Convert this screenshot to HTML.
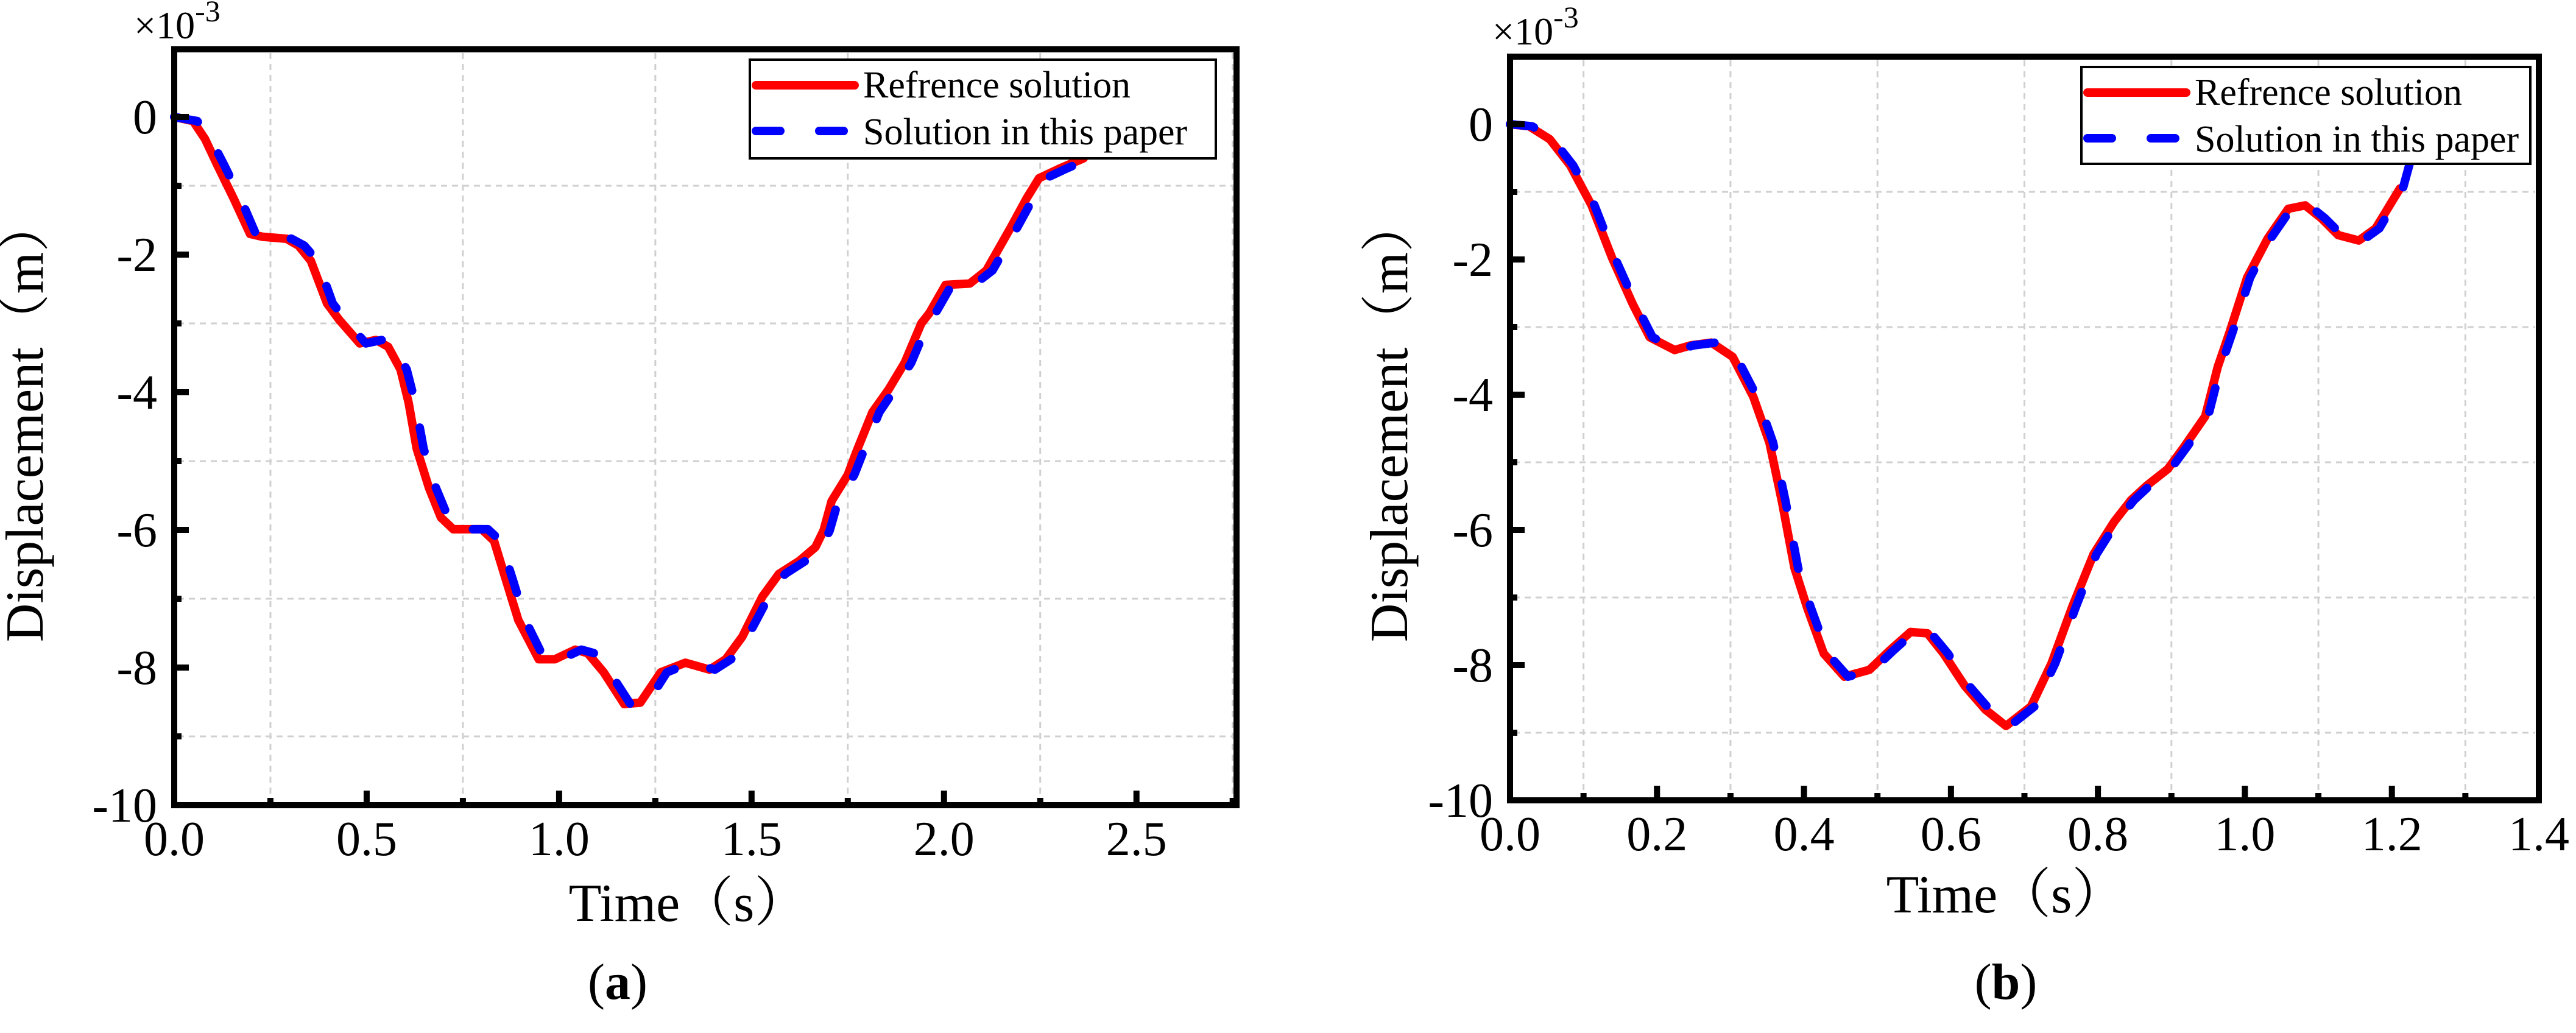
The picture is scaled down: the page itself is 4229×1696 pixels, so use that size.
<!DOCTYPE html>
<html><head><meta charset="utf-8"><style>
html,body{margin:0;padding:0;background:#fff;}
svg{display:block;font-family:"Liberation Serif","Noto Serif CJK SC",serif;}
svg text{font-family:"Liberation Serif","Noto Serif CJK SC",serif;}
</style></head><body>
<svg id="fig" width="4229" height="1696" viewBox="0 0 4229 1696" xmlns="http://www.w3.org/2000/svg">
<rect width="4229" height="1696" fill="#fff"/>
</svg>
<script>
// ---- Panel (a) data ----
const aRefT = [0,0.049,0.080,0.112,0.154,0.197,0.228,0.292,0.323,0.355,0.397,0.429,0.482,0.524,0.556,0.588,0.609,0.630,0.662,0.693,0.725,0.799,0.831,0.862,0.894,0.947,0.989,1.042,1.074,1.116,1.169,1.211,1.264,1.328,1.391,1.433,1.476,1.528,1.571,1.624,1.666,1.687,1.708,1.750,1.772,1.814,1.856,1.898,1.941,1.962,2.004,2.067,2.110,2.173,2.215,2.247,2.300,2.363];
const aRefY = [0,-0.06,-0.32,-0.70,-1.18,-1.70,-1.74,-1.77,-1.87,-2.09,-2.71,-2.95,-3.29,-3.24,-3.34,-3.67,-4.15,-4.82,-5.39,-5.82,-5.99,-5.99,-6.16,-6.73,-7.31,-7.88,-7.88,-7.74,-7.79,-8.07,-8.53,-8.51,-8.07,-7.93,-8.03,-7.88,-7.55,-6.97,-6.64,-6.45,-6.25,-6.01,-5.58,-5.20,-4.87,-4.29,-3.96,-3.57,-3.00,-2.85,-2.44,-2.42,-2.23,-1.61,-1.18,-0.89,-0.75,-0.60];
const aSolT = [0,0.060,0.095,0.130,0.172,0.212,0.245,0.305,0.338,0.372,0.412,0.445,0.498,0.540,0.572,0.604,0.626,0.648,0.680,0.712,0.742,0.815,0.848,0.880,0.912,0.962,1.005,1.058,1.090,1.132,1.185,1.230,1.280,1.342,1.405,1.447,1.490,1.545,1.587,1.640,1.682,1.703,1.725,1.767,1.790,1.832,1.872,1.915,1.958,1.978,2.020,2.082,2.126,2.190,2.232,2.265,2.318,2.380];
const aSolY = [0,-0.06,-0.32,-0.70,-1.18,-1.70,-1.74,-1.77,-1.87,-2.09,-2.71,-2.95,-3.29,-3.24,-3.34,-3.67,-4.15,-4.82,-5.39,-5.82,-5.99,-5.99,-6.16,-6.73,-7.31,-7.88,-7.88,-7.74,-7.79,-8.07,-8.53,-8.51,-8.07,-7.93,-8.03,-7.88,-7.55,-6.97,-6.64,-6.45,-6.25,-6.01,-5.58,-5.20,-4.87,-4.29,-3.96,-3.57,-3.00,-2.85,-2.44,-2.42,-2.23,-1.61,-1.18,-0.89,-0.75,-0.60];
const aXTicks = [0,0.5,1.0,1.5,2.0,2.5];
const aXLabels = ["0.0","0.5","1.0","1.5","2.0","2.5"];
// ---- Panel (b) data ----
const bRefT = [0,0.026,0.054,0.082,0.111,0.139,0.167,0.190,0.224,0.246,0.274,0.303,0.331,0.353,0.370,0.387,0.404,0.427,0.455,0.489,0.517,0.545,0.568,0.590,0.619,0.647,0.675,0.709,0.737,0.765,0.794,0.822,0.845,0.867,0.895,0.918,0.946,0.963,0.980,1.003,1.031,1.059,1.082,1.104,1.127,1.155,1.178,1.211];
const bRefY = [0,-0.03,-0.22,-0.61,-1.20,-1.98,-2.66,-3.15,-3.34,-3.27,-3.23,-3.44,-4.03,-4.71,-5.58,-6.56,-7.14,-7.83,-8.17,-8.07,-7.78,-7.51,-7.53,-7.83,-8.31,-8.66,-8.90,-8.61,-7.97,-7.14,-6.36,-5.88,-5.56,-5.34,-5.10,-4.76,-4.32,-3.59,-3.05,-2.27,-1.69,-1.25,-1.20,-1.39,-1.64,-1.72,-1.54,-0.95];
const bSolT = [0,0.030,0.058,0.086,0.115,0.143,0.171,0.194,0.228,0.250,0.279,0.308,0.336,0.358,0.375,0.392,0.409,0.432,0.460,0.494,0.522,0.550,0.573,0.596,0.625,0.653,0.680,0.714,0.742,0.770,0.798,0.826,0.849,0.871,0.899,0.922,0.950,0.967,0.984,1.007,1.035,1.063,1.087,1.109,1.132,1.160,1.183,1.215,1.225];
const bSolY = [0,-0.03,-0.22,-0.61,-1.20,-1.98,-2.66,-3.15,-3.34,-3.27,-3.23,-3.44,-4.03,-4.71,-5.58,-6.56,-7.14,-7.83,-8.17,-8.07,-7.78,-7.51,-7.53,-7.83,-8.31,-8.66,-8.90,-8.61,-7.97,-7.14,-6.36,-5.88,-5.56,-5.34,-5.10,-4.76,-4.32,-3.59,-3.05,-2.27,-1.69,-1.25,-1.20,-1.39,-1.64,-1.72,-1.54,-0.95,-0.55];
const bXTicks = [0,0.2,0.4,0.6,0.8,1.0,1.2,1.4];
const bXLabels = ["0.0","0.2","0.4","0.6","0.8","1.0","1.2","1.4"];
const yTicks = [0,-2,-4,-6,-8,-10];
const yLabels = ["0","-2","-4","-6","-8","-10"];

const NS = "http://www.w3.org/2000/svg";
const FONT = '"Liberation Serif","Noto Serif CJK SC",serif';
const svg = document.getElementById('fig');
function mk(tag, attrs, parent){const e=document.createElementNS(NS,tag);for(const k in attrs)e.setAttribute(k,attrs[k]);if(tag==='text')e.setAttribute('font-family',FONT);(parent||svg).appendChild(e);return e;}

function panel(cfg){
  const g = mk('g',{});
  
  
  const sx = t => cfg.x0 + (t - 0)/(cfg.xmax) * (cfg.x1 - cfg.x0);
  const sy = v => cfg.y0pos + (-v) * cfg.unit;
  for(let t=cfg.minorStep; t<cfg.xmax-1e-9; t+=2*cfg.minorStep){
    const l=mk('line',{x1:sx(t),x2:sx(t),y1:cfg.top+6,y2:cfg.bottom-6,stroke:'#d0d0d0','stroke-width':3,'stroke-dasharray':'10 8'},g);
    
    
  }
  for(let v=-1; v>=-9; v-=2){
    const l=mk('line',{x1:cfg.x0+6,x2:cfg.x1-6,y1:sy(v),y2:sy(v),stroke:'#d0d0d0','stroke-width':3,'stroke-dasharray':'10 8'},g);
    
    
  }
  const path=(T,Y)=>T.map((t,i)=>(i?'L':'M')+sx(t).toFixed(1)+' '+sy(Y[i]).toFixed(1)).join(' ');
  const r=mk('path',{d:path(cfg.rT,cfg.rY),fill:'none',stroke:'#ff0000','stroke-width':14,'stroke-linejoin':'round','stroke-linecap':'round'},g);
  
  
  const b=mk('path',{d:path(cfg.sT,cfg.sY),fill:'none',stroke:'#0000ff','stroke-width':14,'stroke-dasharray':'40 62','stroke-linejoin':'round','stroke-linecap':'round'},g);
  
  
  const f=mk('rect',{x:cfg.x0,y:cfg.top,width:cfg.x1-cfg.x0,height:cfg.bottom-cfg.top,fill:'none',stroke:'#000','stroke-width':10},g);
  
  
  cfg.xt.forEach((t,i)=>{
    mk('line',{x1:sx(t),x2:sx(t),y1:cfg.bottom,y2:cfg.bottom-24,stroke:'#000','stroke-width':10},g);
    const tx=mk('text',{x:sx(t),y:cfg.bottom+82,'font-size':80,'text-anchor':'middle'},g);
    tx.textContent=cfg.xl[i];
    
    
  });
  for(let t=cfg.minorStep; t<cfg.xmax-1e-9; t+=2*cfg.minorStep){
    mk('line',{x1:sx(t),x2:sx(t),y1:cfg.bottom,y2:cfg.bottom-12,stroke:'#000','stroke-width':10},g);
  }
  yTicks.forEach((v,i)=>{
    mk('line',{x1:cfg.x0,x2:cfg.x0+24,y1:sy(v),y2:sy(v),stroke:'#000','stroke-width':10},g);
    const tx=mk('text',{x:cfg.x0-28,y:sy(v)+27,'font-size':80,'text-anchor':'end'},g);
    tx.textContent=yLabels[i];
    
    
  });
  for(let v=-1; v>=-9; v-=2){
    mk('line',{x1:cfg.x0,x2:cfg.x0+12,y1:sy(v),y2:sy(v),stroke:'#000','stroke-width':10},g);
  }
  const m=mk('text',{x:cfg.multX,y:cfg.multY,'font-size':64},g);
  m.innerHTML='×10<tspan dy="-28" font-size="50">-3</tspan>';
  
  
  const xt=mk('text',{x:cfg.xTitleX,y:cfg.xTitleY,'font-size':88,'text-anchor':'middle'},g);
  xt.textContent='Time（s）';
  
  
  const yt=mk('text',{x:0,y:0,'font-size':88,'text-anchor':'middle',transform:`translate(${cfg.yTitleX},${cfg.yTitleY}) rotate(-90)`},g);
  yt.textContent='Displacement（m）';
  
  
  const L=cfg.leg;
  const lg=mk('g',{},g);
  
  
  mk('rect',{x:L.x,y:L.y,width:L.w,height:L.h,fill:'#fff',stroke:'#000','stroke-width':4},lg);
  mk('line',{x1:L.x+10,x2:L.x+172,y1:L.y+42,y2:L.y+42,stroke:'#ff0000','stroke-width':14,'stroke-linecap':'round'},lg);
  mk('line',{x1:L.x+10,x2:L.x+166,y1:L.y+117,y2:L.y+117,stroke:'#0000ff','stroke-width':14,'stroke-linecap':'round','stroke-dasharray':'40 64'},lg);
  const t1=mk('text',{x:L.x+186,y:L.y+62,'font-size':62},lg);t1.textContent='Refrence solution';
  
  
  const t2=mk('text',{x:L.x+186,y:L.y+139,'font-size':62},lg);t2.textContent='Solution in this paper';
  
  
  const c=mk('text',{x:cfg.capX,y:1640,'font-size':84,'text-anchor':'middle'},g);
  c.innerHTML='(<tspan font-weight="bold">'+cfg.cap+'</tspan>)';
  
  
}

panel({name:'panel-a',x0:286,x1:2030,xmax:2.76,top:81,bottom:1322,y0pos:192,unit:113,minorStep:0.25,
  rT:aRefT,rY:aRefY,sT:aSolT,sY:aSolY,xt:aXTicks,xl:aXLabels,
  multX:220,multY:63,xTitleX:1130,xTitleY:1512,yTitleX:70,yTitleY:690,
  leg:{x:1231,y:98,w:765,h:162},capX:1014,cap:'a'});
panel({name:'panel-b',x0:2479,x1:4168,xmax:1.4,top:93,bottom:1314,y0pos:204,unit:111,minorStep:0.1,
  rT:bRefT,rY:bRefY,sT:bSolT,sY:bSolY,xt:bXTicks,xl:bXLabels,
  multX:2450,multY:73,xTitleX:3293,xTitleY:1498,yTitleX:2310,yTitleY:690,
  leg:{x:3417,y:110,w:737,h:159},capX:3293,cap:'b'});
</script>
</body></html>
